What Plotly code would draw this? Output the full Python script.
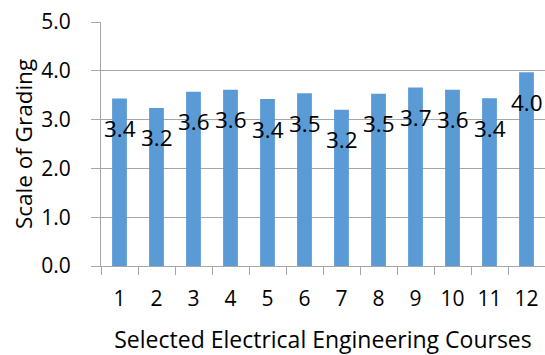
import plotly.graph_objects as go

# Average grading score per selected course
courses = [str(i) for i in range(1, 13)]
scores = [3.43, 3.24, 3.57, 3.61, 3.42, 3.54, 3.20, 3.53, 3.66, 3.61, 3.44, 3.97]
y_ticks = [0, 1, 2, 3, 4, 5]
y_tick_text = ["0.0", "1.0", "2.0", "3.0", "4.0", "5.0"]

BAR = "#5b9bd5"
GRID = "#a6a6a6"
FONT = "Open Sans"
INK = "#000000"

fig = go.Figure(
    go.Bar(
        x=courses,
        y=scores,
        marker=dict(color=BAR, line=dict(width=0)),
        hoverinfo="skip",
    )
)

# value labels sit below each bar's top edge (category axis -> index positions)
for i, v in enumerate(scores):
    fig.add_annotation(
        x=i, y=v, text=f"{v:.1f}", showarrow=False,
        yanchor="middle", yshift=-30,
        font=dict(family=FONT, size=22.5, color=INK),
    )

fig.update_layout(
    width=545, height=355,
    margin=dict(l=101, r=0, t=22, b=89),
    paper_bgcolor="white", plot_bgcolor="white",
    bargap=0.6, showlegend=False,
    font=dict(family=FONT, color=INK),
)

fig.update_xaxes(
    type="category", range=[-0.5, 11.5],
    tickson="boundaries", ticks="outside", ticklen=8, tickwidth=1, tickcolor=GRID,
    showline=True, linecolor=GRID, linewidth=1,
    showgrid=False,
    tickfont=dict(family=FONT, size=21, color=INK),
    ticklabelstandoff=14,
    title=dict(text="Selected Electrical Engineering Courses",
               font=dict(family=FONT, size=23, color=INK), standoff=21),
)

fig.update_yaxes(
    range=[0, 5], tickvals=y_ticks, ticktext=y_tick_text,
    ticks="outside", ticklen=9, tickwidth=1, tickcolor=GRID,
    showline=True, linecolor=GRID, linewidth=1,
    showgrid=True, gridcolor=GRID, gridwidth=1,
    zeroline=False,
    tickfont=dict(family=FONT, size=21, color=INK),
    ticklabelstandoff=16,
    title=dict(text="Scale of Grading",
               font=dict(family=FONT, size=22.5, color=INK), standoff=2),
)

fig.write_html("out.html")
